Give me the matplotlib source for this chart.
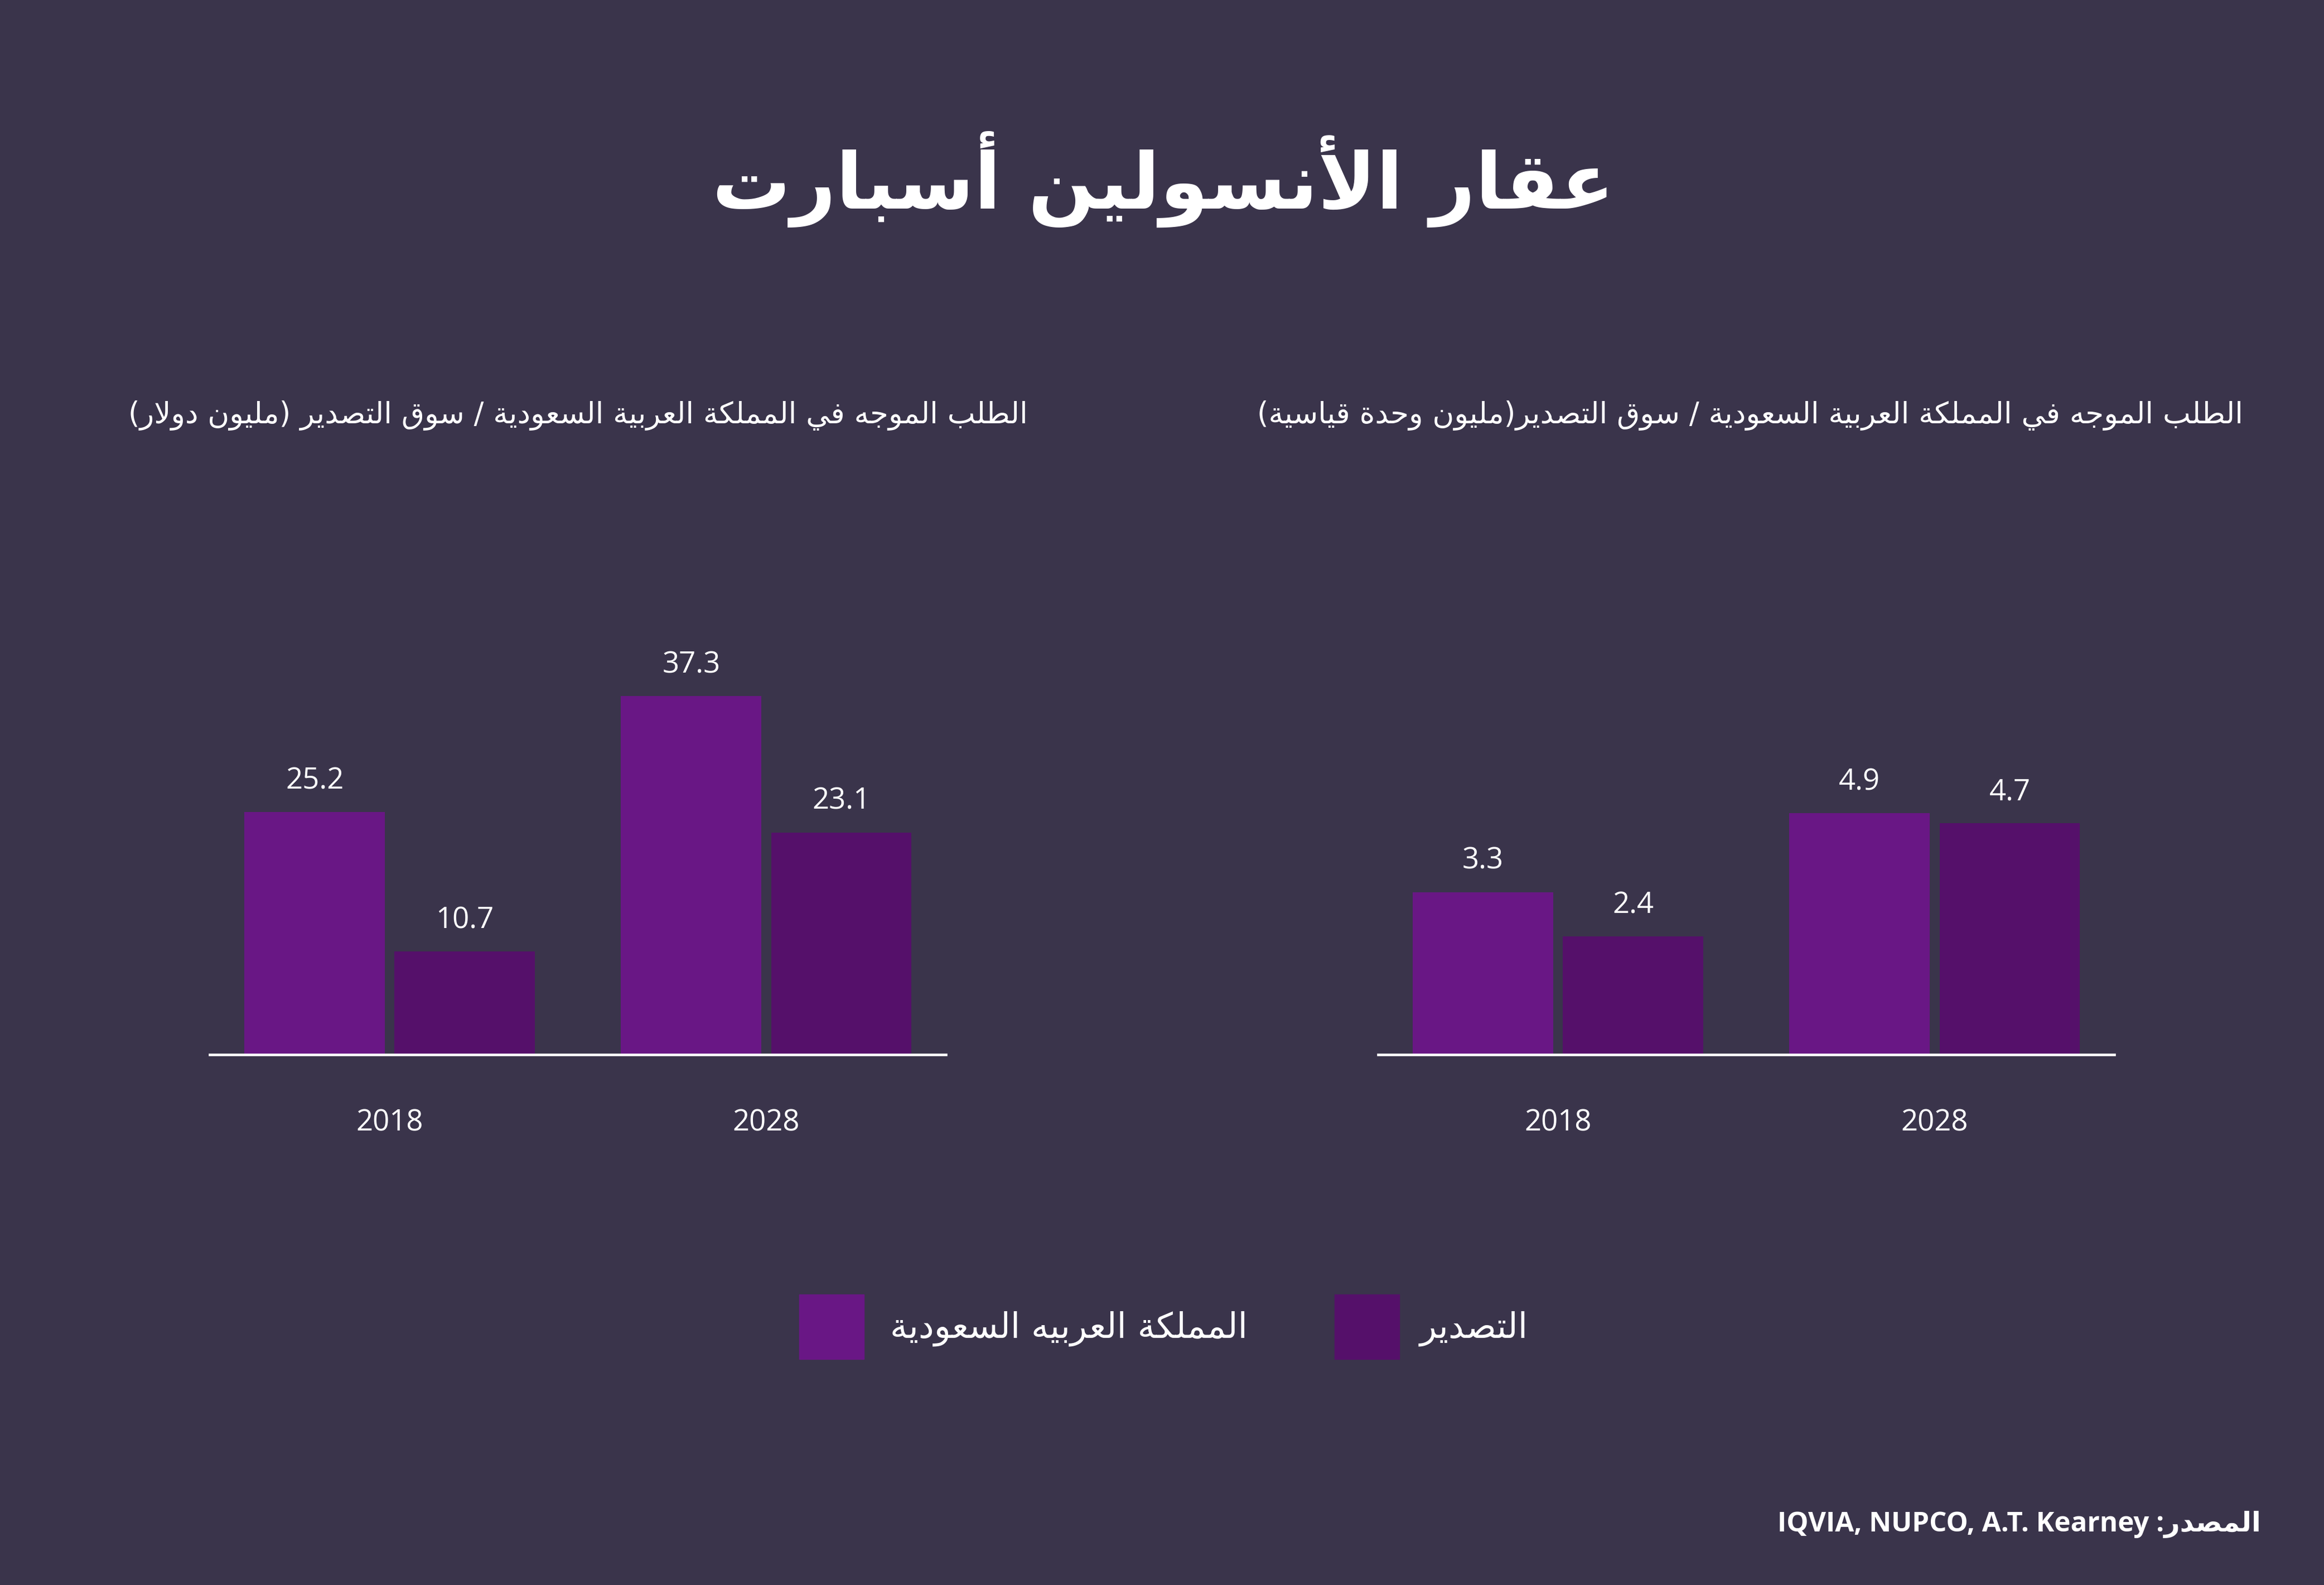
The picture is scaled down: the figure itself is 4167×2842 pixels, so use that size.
import matplotlib
matplotlib.use("Agg")
import matplotlib.pyplot as plt
from matplotlib.patches import Rectangle
import numpy as np

# ---------------- data ----------------
years = ["2018", "2028"]
value_ksa = [25.2, 37.3]      # million USD, Saudi demand
value_export = [10.7, 23.1]   # million USD, export
units_ksa = [3.3, 4.9]        # million standard units, Saudi demand
units_export = [2.4, 4.7]     # million standard units, export

title_txt = "عقار الأنسولين أسبارت"
sub_left_txt = "الطلب الموجه في المملكة العربية السعودية / سوق التصدير (مليون دولار)"
sub_right_txt = "الطلب الموجه في المملكة العربية السعودية / سوق التصدير(مليون وحدة قياسية)"
legend_ksa_txt = "المملكة العربيه السعودية"
legend_export_txt = "التصدير"
source_ar = "المصدر"
source_en = "IQVIA, NUPCO, A.T. Kearney"

# ---------------- Arabic shaping (presentation forms + RTL) ----------------
# (isolated, final, initial, medial)
FORMS = {
    "\u0627": ("\uFE8D", "\uFE8E", None, None),
    "\u0623": ("\uFE83", "\uFE84", None, None),
    "\u0625": ("\uFE87", "\uFE88", None, None),
    "\u0622": ("\uFE81", "\uFE82", None, None),
    "\u0628": ("\uFE8F", "\uFE90", "\uFE91", "\uFE92"),
    "\u0629": ("\uFE93", "\uFE94", None, None),
    "\u062A": ("\uFE95", "\uFE96", "\uFE97", "\uFE98"),
    "\u062B": ("\uFE99", "\uFE9A", "\uFE9B", "\uFE9C"),
    "\u062C": ("\uFE9D", "\uFE9E", "\uFE9F", "\uFEA0"),
    "\u062D": ("\uFEA1", "\uFEA2", "\uFEA3", "\uFEA4"),
    "\u062E": ("\uFEA5", "\uFEA6", "\uFEA7", "\uFEA8"),
    "\u062F": ("\uFEA9", "\uFEAA", None, None),
    "\u0630": ("\uFEAB", "\uFEAC", None, None),
    "\u0631": ("\uFEAD", "\uFEAE", None, None),
    "\u0632": ("\uFEAF", "\uFEB0", None, None),
    "\u0633": ("\uFEB1", "\uFEB2", "\uFEB3", "\uFEB4"),
    "\u0634": ("\uFEB5", "\uFEB6", "\uFEB7", "\uFEB8"),
    "\u0635": ("\uFEB9", "\uFEBA", "\uFEBB", "\uFEBC"),
    "\u0636": ("\uFEBD", "\uFEBE", "\uFEBF", "\uFEC0"),
    "\u0637": ("\uFEC1", "\uFEC2", "\uFEC3", "\uFEC4"),
    "\u0638": ("\uFEC5", "\uFEC6", "\uFEC7", "\uFEC8"),
    "\u0639": ("\uFEC9", "\uFECA", "\uFECB", "\uFECC"),
    "\u063A": ("\uFECD", "\uFECE", "\uFECF", "\uFED0"),
    "\u0641": ("\uFED1", "\uFED2", "\uFED3", "\uFED4"),
    "\u0642": ("\uFED5", "\uFED6", "\uFED7", "\uFED8"),
    "\u0643": ("\uFED9", "\uFEDA", "\uFEDB", "\uFEDC"),
    "\u0644": ("\uFEDD", "\uFEDE", "\uFEDF", "\uFEE0"),
    "\u0645": ("\uFEE1", "\uFEE2", "\uFEE3", "\uFEE4"),
    "\u0646": ("\uFEE5", "\uFEE6", "\uFEE7", "\uFEE8"),
    "\u0647": ("\uFEE9", "\uFEEA", "\uFEEB", "\uFEEC"),
    "\u0648": ("\uFEED", "\uFEEE", None, None),
    "\u0649": ("\uFEEF", "\uFEF0", None, None),
    "\u064A": ("\uFEF1", "\uFEF2", "\uFEF3", "\uFEF4"),
}
LAM_ALEF = {
    "\u0627": ("\uFEFB", "\uFEFC"),
    "\u0623": ("\uFEF7", "\uFEF8"),
    "\u0625": ("\uFEF9", "\uFEFA"),
    "\u0622": ("\uFEF5", "\uFEF6"),
}
MIRROR = {"(": ")", ")": "(", "[": "]", "]": "["}


def shape_rtl(text):
    tokens = []
    i = 0
    while i < len(text):
        c = text[i]
        if c == "\u0644" and i + 1 < len(text) and text[i + 1] in LAM_ALEF:
            tokens.append(("LA", text[i + 1]))
            i += 2
        else:
            tokens.append(c)
            i += 1

    def is_ar(t):
        return isinstance(t, tuple) or t in FORMS

    def joins_next(t):
        if isinstance(t, tuple):
            return False
        return t in FORMS and FORMS[t][2] is not None

    out = []
    for k, t in enumerate(tokens):
        if not is_ar(t):
            out.append(t)
            continue
        prev = tokens[k - 1] if k > 0 else None
        nxt = tokens[k + 1] if k + 1 < len(tokens) else None
        jp = prev is not None and is_ar(prev) and joins_next(prev)
        jn = joins_next(t) and nxt is not None and is_ar(nxt)
        if isinstance(t, tuple):
            iso, fin = LAM_ALEF[t[1]]
            out.append(fin if jp else iso)
            continue
        iso, fin, ini, med = FORMS[t]
        if jp and jn:
            out.append(med)
        elif jp:
            out.append(fin)
        elif jn:
            out.append(ini)
        else:
            out.append(iso)
    vis = [MIRROR.get(c, c) for c in reversed(out)]
    return "".join(vis)


# ---------------- style ----------------
W, H = 4167, 2842
DPI = 100
BG = "#3a344b"
C_KSA = "#691785"
C_EXP = "#55106a"
WHITE = "#ffffff"
AR_FONT = ["DejaVu Sans"]
NUM_FONT = ["Open Sans", "DejaVu Sans"]

fig = plt.figure(figsize=(W / DPI, H / DPI), dpi=DPI, facecolor=BG)

def fx(px):
    return px / W

def fy(py):
    return (H - py) / H

base_px = 1891
axh_px = 883
axw_px = 1320
bar_w = 0.373
off = 0.1993
x = np.arange(len(years))


def draw_panel(left_px, ksa, exp, ymax):
    ax = fig.add_axes([fx(left_px), fy(base_px), axw_px / W, axh_px / H])
    ax.set_facecolor("none")
    ax.bar(x - off, ksa, width=bar_w, color=C_KSA, zorder=2)
    ax.bar(x + off, exp, width=bar_w, color=C_EXP, zorder=2)
    for xi, v in zip(x - off, ksa):
        ax.annotate(f"{v}", xy=(xi, v), xytext=(0, 30), textcoords="offset points",
                    ha="center", va="baseline", color=WHITE, fontsize=38,
                    family=NUM_FONT)
    for xi, v in zip(x + off, exp):
        ax.annotate(f"{v}", xy=(xi, v), xytext=(0, 30), textcoords="offset points",
                    ha="center", va="baseline", color=WHITE, fontsize=38,
                    family=NUM_FONT)
    ax.set_xlim(-0.478, 1.477)
    ax.set_ylim(0, ymax)
    ax.set_xticks(x)
    ax.set_xticklabels(years, color=WHITE, fontsize=38, family=NUM_FONT)
    ax.tick_params(axis="x", length=0, pad=69)
    ax.set_yticks([])
    for s in ("top", "left", "right"):
        ax.spines[s].set_visible(False)
    ax.spines["bottom"].set_color(WHITE)
    ax.spines["bottom"].set_linewidth(3.3)
    ax.spines["bottom"].set_zorder(3)
    return ax


draw_panel(376, value_ksa, value_export, 51.2)
draw_panel(2471, units_ksa, units_export, 10.0)

# title
fig.text(fx(2086), fy(374), shape_rtl(title_txt), ha="center", va="baseline",
         color=WHITE, fontsize=101, fontweight="bold", family=AR_FONT)

# subtitles
fig.text(fx(1843), fy(759), shape_rtl(sub_left_txt), ha="right", va="baseline",
         color=WHITE, fontsize=38.2, family=AR_FONT)
fig.text(fx(4022), fy(759), shape_rtl(sub_right_txt), ha="right", va="baseline",
         color=WHITE, fontsize=38.2, family=AR_FONT)

# legend
box = 116
fig.patches.append(Rectangle((fx(1433), fy(2437)), box / W, box / H,
                             transform=fig.transFigure, color=C_KSA, figure=fig))
fig.patches.append(Rectangle((fx(2393), fy(2437)), box / W, box / H,
                             transform=fig.transFigure, color=C_EXP, figure=fig))
fig.text(fx(1596), fy(2398), shape_rtl(legend_ksa_txt), ha="left", va="baseline",
         color=WHITE, fontsize=45, family=AR_FONT)
fig.text(fx(2546), fy(2398), shape_rtl(legend_export_txt), ha="left", va="baseline",
         color=WHITE, fontsize=45, family=AR_FONT)

# source
fig.text(fx(4054), fy(2746), source_en + " :" + shape_rtl(source_ar), ha="right",
         va="baseline", color=WHITE, fontsize=35.5, fontweight="bold", family=NUM_FONT)

fig.savefig("out.png", dpi=DPI, facecolor=BG)
